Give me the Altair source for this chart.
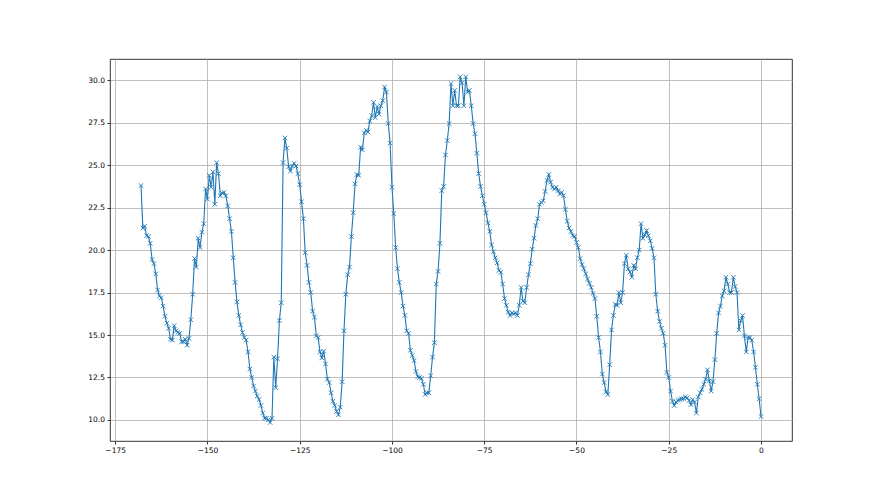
import altair as alt
import pandas as pd

x_start = -168.0
x_step = 0.5

seg_a = [23.8, 21.3, 21.4, 20.85, 20.8, 20.4, 19.45, 19.2, 18.6, 17.65,
         17.3, 17.2, 16.7, 16.1, 15.7, 15.4, 14.75, 14.7, 15.55, 15.25,
         15.15, 15.1, 14.6, 14.6, 14.75, 14.4, 14.8, 15.9, 17.4, 19.5,
         19.0, 20.7, 20.15, 21.05, 21.55, 23.6, 23.0, 24.4, 23.7, 24.6]
seg_b = [22.7, 25.15, 24.5, 23.2, 23.35, 23.4, 23.2, 22.6, 21.85, 21.1,
         19.55, 18.1, 16.95, 16.15, 15.6, 15.15, 14.85, 14.7, 14.0, 13.0,
         12.5, 12.0, 11.7, 11.4, 11.2, 10.85, 10.4, 10.1, 10.1, 10.0,
         9.85, 10.1, 13.7, 11.9, 13.6, 15.85, 16.9, 25.15, 26.6, 26.0,
         24.9, 24.65, 24.95, 25.1, 24.95, 24.5, 23.85, 22.85, 21.85, 19.85,
         19.1, 18.1, 17.5, 16.4, 16.05, 14.95, 14.85, 14.0, 13.65, 14.05,
         13.3, 12.4, 12.2, 11.6, 11.1, 10.85, 10.5]
seg_c = [10.3, 10.75, 12.25, 15.25, 17.4, 18.55, 19.0, 20.8, 22.2, 23.9,
         24.45, 24.4, 26.05, 25.9, 26.9, 27.05, 26.95, 27.6, 27.9, 28.7,
         27.8, 28.45, 28.0, 28.5, 28.8, 29.6, 29.3, 27.45, 26.3, 23.7,
         22.15, 20.15, 18.9, 18.1, 17.5, 16.7, 16.15, 15.25, 15.1, 14.1,
         13.8, 13.5, 12.85, 12.55, 12.5, 12.45, 12.1, 11.5, 11.6, 11.6,
         12.6, 13.7, 14.55, 18.0, 18.75, 20.4, 23.5, 23.75, 25.6, 26.45,
         27.45, 29.8, 28.5, 29.4, 28.5, 28.5, 30.2, 29.85, 28.5, 30.2,
         29.3, 29.4, 28.5, 27.45, 26.85, 25.7, 24.5, 23.75, 23.2, 22.7,
         22.2, 21.6, 21.1, 20.3, 19.9, 19.55, 19.25, 18.8, 18.7, 18.0,
         17.15, 16.75, 16.35, 16.15, 16.3, 16.25, 16.3, 16.15, 16.75, 17.8,
         17.0, 16.9, 17.8, 18.55, 19.2, 20.05, 20.7, 21.45, 21.85, 22.7,
         22.8, 22.9, 23.45, 24.1]
seg_d = [24.45, 24.0, 23.7, 23.6, 23.7, 23.5, 23.3, 23.4, 23.2, 22.4,
         21.7, 21.3, 21.1, 20.85, 20.8, 20.45, 20.15, 19.5, 19.15, 18.9,
         18.6, 18.3, 18.05, 17.8, 17.45, 17.15, 16.1, 14.85, 14.0, 12.7,
         12.2, 11.65, 11.5, 13.25, 15.3, 16.15, 16.8, 16.75, 17.5, 16.9,
         17.5, 19.2, 19.7, 18.9, 18.7, 18.4, 19.1, 18.9, 19.55, 20.0,
         21.55, 20.7, 20.9, 21.15, 20.85, 20.55, 20.1, 19.55, 17.4, 16.4,
         15.8, 15.4, 15.1, 14.4, 12.8, 12.5, 11.7, 11.1, 10.85, 11.05,
         11.15, 11.2, 11.25, 11.25, 11.35, 11.3, 11.15, 10.9, 11.2, 11.05,
         10.4, 11.35, 11.6, 11.8, 12.1, 12.4, 12.95, 12.3, 11.7, 12.25,
         13.55, 15.1, 16.3, 16.7, 17.3, 17.6, 18.4, 18.0, 17.5, 17.5,
         18.4, 17.85, 17.5, 15.3, 15.85, 16.15, 14.95, 14.0, 14.85, 14.85,
         14.7, 14.0, 13.1, 12.1, 11.25, 10.2]

values = seg_a + seg_b + seg_c + seg_d
hours = [x_start + x_step * i for i in range(len(values))]

x_ticks = [-175, -150, -125, -100, -75, -50, -25, 0]
y_ticks = [10.0, 12.5, 15.0, 17.5, 20.0, 22.5, 25.0, 27.5, 30.0]

df = pd.DataFrame({"h": hours, "v": values})

color = "#1f77b4"

x_enc = alt.X("h:Q", scale=alt.Scale(domain=[-176.4, 8.4], nice=False, zero=False),
              axis=alt.Axis(values=x_ticks, format="d", title=None))
y_enc = alt.Y("v:Q", scale=alt.Scale(domain=[8.76, 31.25], nice=False, zero=False),
              axis=alt.Axis(values=y_ticks, format=".1f", title=None))

line = alt.Chart(df).mark_line(color=color, strokeWidth=1.1).encode(x=x_enc, y=y_enc)
pts = alt.Chart(df).mark_point(
    shape="M-1,-1L1,1M-1,1L1,-1", filled=False, color=color,
    strokeWidth=0.9, size=20, opacity=1
).encode(x=x_enc, y=y_enc)

chart = (line + pts).properties(
    width=682, height=382,
    autosize=alt.AutoSizeParams(type="none"),
    padding={"left": 102, "top": 51, "right": 80, "bottom": 46},
    background="white",
).configure_view(
    stroke="black", strokeWidth=0.8
).configure_axis(
    grid=True, gridColor="#b0b0b0", gridWidth=0.8,
    domain=False, ticks=True, tickColor="black", tickSize=3, tickWidth=0.8,
    labelFont="DejaVu Sans", labelFontSize=7.5, labelColor="black",
    labelPadding=2.5, labelFlush=False,
)

chart.save("out.html", embed_options={"renderer": "svg", "actions": False})
